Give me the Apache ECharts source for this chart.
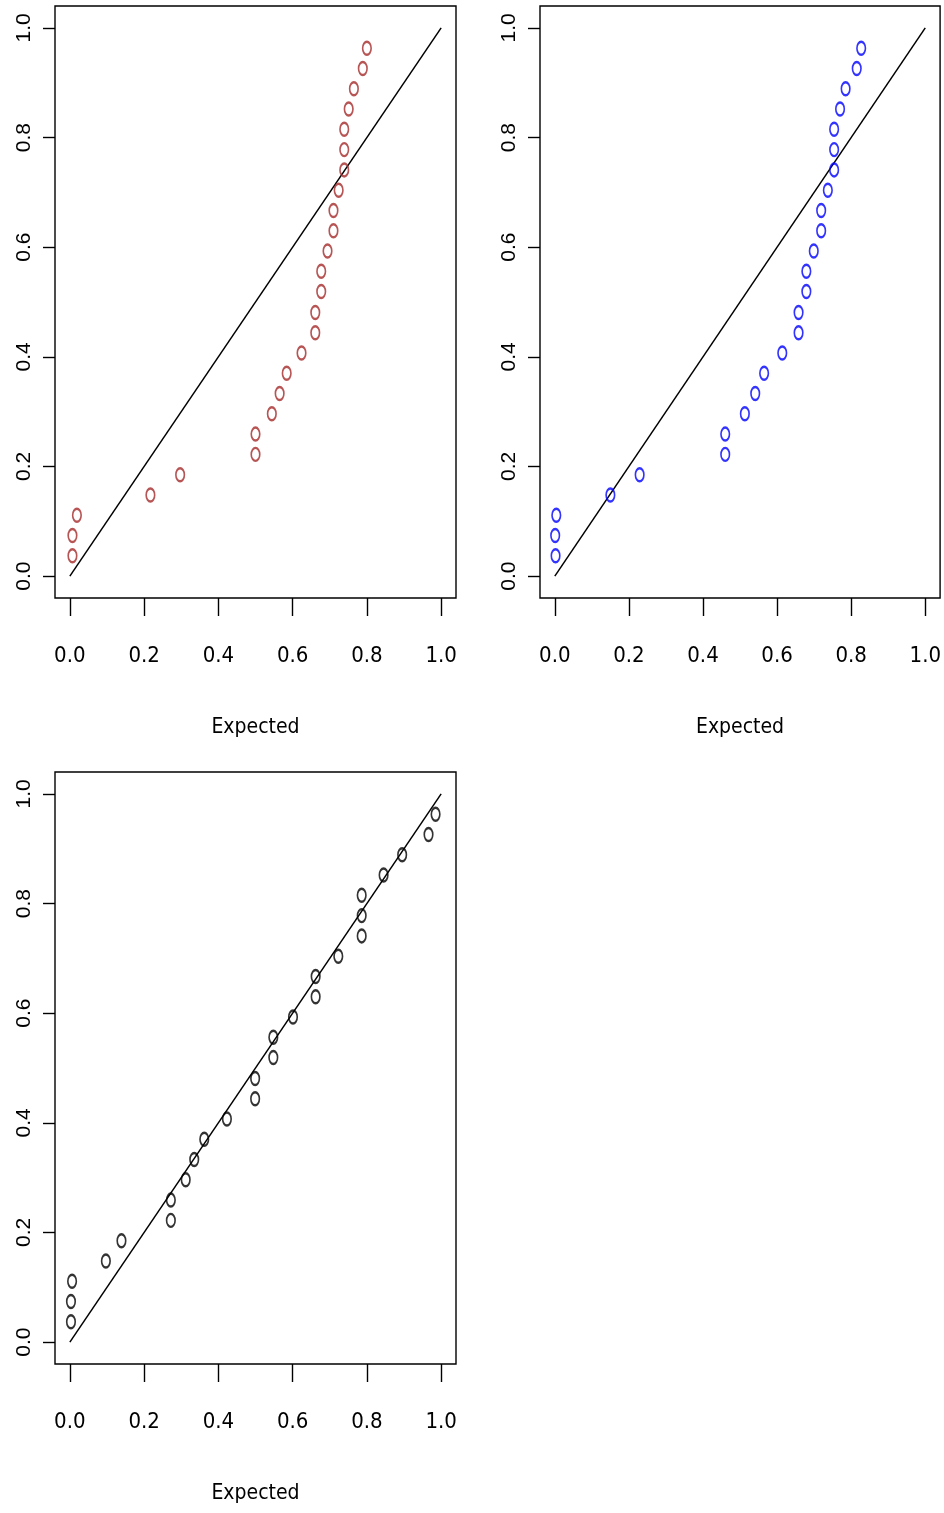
<!DOCTYPE html>
<html>
<head>
<meta charset="utf-8">
<script src="https://cdn.jsdelivr.net/npm/echarts@6/dist/echarts.min.js"></script>
<style>
html,body{margin:0;padding:0;background:#fff;}
#c{width:944px;height:1513px;}
</style>
</head>
<body>
<div id="c"></div>
<script>
// Observed quantiles (same for all panels)
var observed = [0.037, 0.074, 0.111, 0.148, 0.185, 0.222, 0.259, 0.296, 0.333, 0.370, 0.407, 0.444, 0.481,
  0.519, 0.556, 0.593, 0.630, 0.667, 0.704, 0.741, 0.778, 0.815, 0.852, 0.889, 0.926, 0.963];
// Expected values per panel
var expectedA = [0.007, 0.007, 0.019, 0.217, 0.297, 0.500, 0.500, 0.544, 0.565, 0.584, 0.624, 0.661, 0.661,
  0.677, 0.677, 0.694, 0.710, 0.710, 0.724, 0.739, 0.739, 0.739, 0.751, 0.765, 0.789, 0.800];
var expectedB = [0.002, 0.001, 0.004, 0.150, 0.229, 0.460, 0.460, 0.513, 0.541, 0.565, 0.614, 0.658, 0.658,
  0.679, 0.679, 0.699, 0.719, 0.719, 0.737, 0.754, 0.754, 0.754, 0.770, 0.785, 0.815, 0.827];
var expectedC = [0.003, 0.003, 0.006, 0.097, 0.139, 0.272, 0.272, 0.312, 0.335, 0.362, 0.423, 0.499, 0.499,
  0.548, 0.548, 0.601, 0.662, 0.662, 0.723, 0.786, 0.786, 0.786, 0.845, 0.895, 0.966, 0.985];
var refLine = [[0, 0], [1, 1]];
var tickValues = [0, 0.2, 0.4, 0.6, 0.8, 1.0];
var xTitle = 'Expected';
var panelColors = ['#A52A2A', '#0000FF', '#000000'];

var panels = [
  {x: expectedA, left: 55, top: 6},
  {x: expectedB, left: 540, top: 6},
  {x: expectedC, left: 55, top: 772}
];

var narrowFont = '"DejaVu Sans Condensed", "Liberation Sans Narrow", "Liberation Sans", sans-serif';

function pairs(xs, ys) {
  var out = [];
  for (var i = 0; i < xs.length; i++) out.push([xs[i], ys[i]]);
  return out;
}

var grids = [], xAxes = [], yAxes = [], series = [];
panels.forEach(function (p, i) {
  grids.push({left: p.left, top: p.top, width: 401, height: 592, show: true,
    borderColor: '#000', borderWidth: 1.4, backgroundColor: 'transparent', containLabel: false});
  xAxes.push({type: 'value', gridIndex: i, min: -0.04, max: 1.04, position: 'bottom',
    axisLine: {show: false, onZero: false},
    splitLine: {show: false},
    axisTick: {show: true, length: 18, customValues: tickValues, lineStyle: {color: '#000', width: 1.4}},
    axisLabel: {show: true, customValues: tickValues, margin: 47,
      formatter: function (v) { return v.toFixed(1); },
      fontFamily: narrowFont, fontSize: 22, color: '#000'},
    name: xTitle, nameLocation: 'middle', nameGap: 119,
    nameTextStyle: {fontFamily: narrowFont, fontSize: 21, color: '#000'}
  });
  yAxes.push({type: 'value', gridIndex: i, min: -0.04, max: 1.04, position: 'left',
    axisLine: {show: false, onZero: false},
    splitLine: {show: false},
    axisTick: {show: true, length: 12, customValues: tickValues, lineStyle: {color: '#000', width: 1.4}},
    axisLabel: {show: true, customValues: tickValues, rotate: 90, margin: 20,
      formatter: function (v) { return v.toFixed(1); },
      fontFamily: '"Liberation Sans", Arial, sans-serif', fontSize: 21, color: '#000'}
  });
  series.push({type: 'line', xAxisIndex: i, yAxisIndex: i, data: refLine, showSymbol: false,
    symbol: 'none', silent: true, animation: false,
    lineStyle: {color: '#000', width: 1.5}, z: 2});
  series.push({type: 'scatter', xAxisIndex: i, yAxisIndex: i, data: pairs(p.x, observed),
    symbol: 'circle', symbolSize: [8.5, 13], animation: false, silent: true,
    itemStyle: {color: 'rgba(0,0,0,0)', borderColor: panelColors[i], borderWidth: 2}, z: 3});
});

var chart = echarts.init(document.getElementById('c'), null, {renderer: 'canvas'});
chart.setOption({
  animation: false,
  backgroundColor: '#fff',
  grid: grids,
  xAxis: xAxes,
  yAxis: yAxes,
  series: series
});
</script>
</body>
</html>
